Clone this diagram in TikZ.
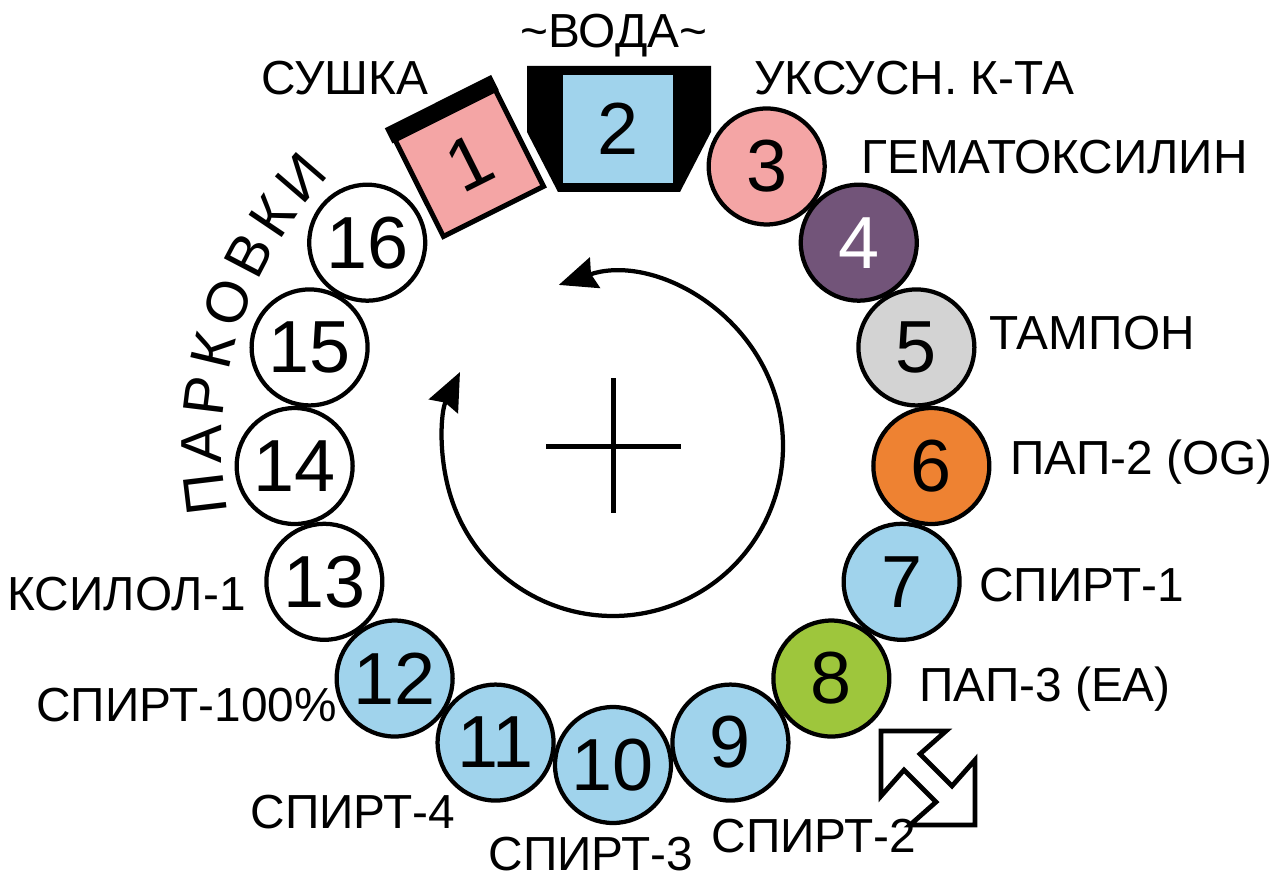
\documentclass[tikz,border=0pt]{standalone}
\usepackage{fontspec}
\setmainfont{Liberation Sans}
\usetikzlibrary{arrows.meta}
\definecolor{cpink}{HTML}{F4A5A5}
\definecolor{cblue}{HTML}{A0D3EC}
\definecolor{cpurple}{HTML}{725479}
\definecolor{cgrey}{HTML}{D3D3D3}
\definecolor{corange}{HTML}{EE8232}
\definecolor{cgreen}{HTML}{9EC63C}
\begin{document}
\begin{tikzpicture}[x=0.02cm,y=0.02cm,
  stn/.style={circle, draw=black, line width=0.085cm, minimum size=2.32cm, inner sep=0pt, font=\fontsize{42}{42}\selectfont},
  lbl/.style={inner sep=0pt, font=\fontsize{27.2}{27.2}\selectfont},
  prk/.style={inner sep=0pt, font=\fontsize{33}{33}\selectfont},
  rotarrow/.style={line width=0.085cm, {Stealth[length=0.76cm,width=0.64cm,inset=0.08cm]}-{Stealth[length=0.76cm,width=0.64cm,inset=0.08cm]}}]
\useasboundingbox (-613,-433) rectangle (664,446);
\coordinate (C) at (0,0);

% central cross
\draw[line width=0.1cm] (-67,0) -- (68,0);
\draw[line width=0.1cm] (0,68) -- (0,-67);

% rotation arc
\draw[rotarrow] (108.6:3.4cm) arc[start angle=108.6, end angle=-205.8, radius=3.4cm];

% station 1 (drying)
\begin{scope}[shift={(-141,282)}, rotate=26.6]
  \draw[line width=0.1cm, fill=cpink] (-58,-52) rectangle (54,56);
  \fill[black] (-62,54) rectangle (57,71);
  \node[inner sep=0pt, font=\fontsize{42}{42}\selectfont, rotate=26.6] (s1) at (-2,2) {1};
\end{scope}

% station 2 (water)
\fill[black] (-86,380) -- (98,380) -- (98,314) -- (67,254) -- (-55,254) -- (-86,314) -- cycle;
\fill[cblue] (-50,263) rectangle (60,371);
\node[inner sep=0pt, font=\fontsize{42}{42}\selectfont] (s2) at (5,317) {2};

% stations
\node[stn, fill=cpink] (s3) at (61.2:319) {3};
\node[stn, fill=cpurple, text=white] (s4) at (39.6:319) {4};
\node[stn, fill=cgrey] (s5) at (18:319) {5};
\node[stn, fill=corange] (s6) at (-3.6:319) {6};
\node[stn, fill=cblue] (s7) at (-25.2:319) {7};
\node[stn, fill=cgreen] (s8) at (-46.8:319) {8};
\node[stn, fill=cblue] (s9) at (-68.4:319) {9};
\node[stn, fill=cblue] (s10) at (-90:319) {10};
\node[stn, fill=cblue] (s11) at (-111.6:319) {11};
\node[stn, fill=cblue] (s12) at (-133.2:319) {12};
\node[stn, fill=white] (s13) at (-154.8:319) {13};
\node[stn, fill=white] (s14) at (-176.4:319) {14};
\node[stn, fill=white] (s15) at (162:319) {15};
\node[stn, fill=white] (s16) at (140.4:319) {16};

% labels
\node[lbl, anchor=base] (l1) at (-268,351) {СУШКА};
\node[lbl, anchor=base] (l2) at (1,398) {\char`\~ВОДА\char`\~};
\node[lbl, anchor=base west] (l3) at (141,351) {УКСУСН. К-ТА};
\node[lbl, anchor=base west] (l4) at (248,272) {ГЕМАТОКСИЛИН};
\node[lbl, anchor=base west] (l5) at (376,97) {ТАМПОН};
\node[lbl, anchor=base west] (l6) at (397,-28) {ПАП-2 (OG)};
\node[lbl, anchor=base west] (l7) at (366,-155) {СПИРТ-1};
\node[lbl, anchor=base west] (l8) at (306,-255) {ПАП-3 (ЕА)};
\node[lbl, anchor=base] (l9) at (201,-406) {СПИРТ-2};
\node[lbl, anchor=base] (l10) at (-22,-424) {СПИРТ-3};
\node[lbl, anchor=base] (l11) at (-260,-382) {СПИРТ-4};
\node[lbl, anchor=base east] (l12) at (-276,-275) {СПИРТ-100\%};
\node[lbl, anchor=base east] (l13) at (-367,-164) {КСИЛОЛ-1};

% curved label
\foreach \a/\l [count=\i] in {186.8/П,179.8/А,173.0/Р,166.5/К,159.6/О,152.4/В,146.0/К,139.3/И}
  \node[prk, rotate=\a-90] (p\i) at (\a:411) {\l};

% double arrow symbol
\begin{scope}[shift={(315,-332)}]
  \draw[line width=0.095cm, fill=white, line join=miter]
    (-47,47) -- (18,47) -- (-8,24) -- (24,-8) -- (47,18) -- (47,-47)
    -- (-18,-47) -- (8,-24) -- (-24,8) -- (-47,-18) -- cycle;
\end{scope}
\end{tikzpicture}
\end{document}
